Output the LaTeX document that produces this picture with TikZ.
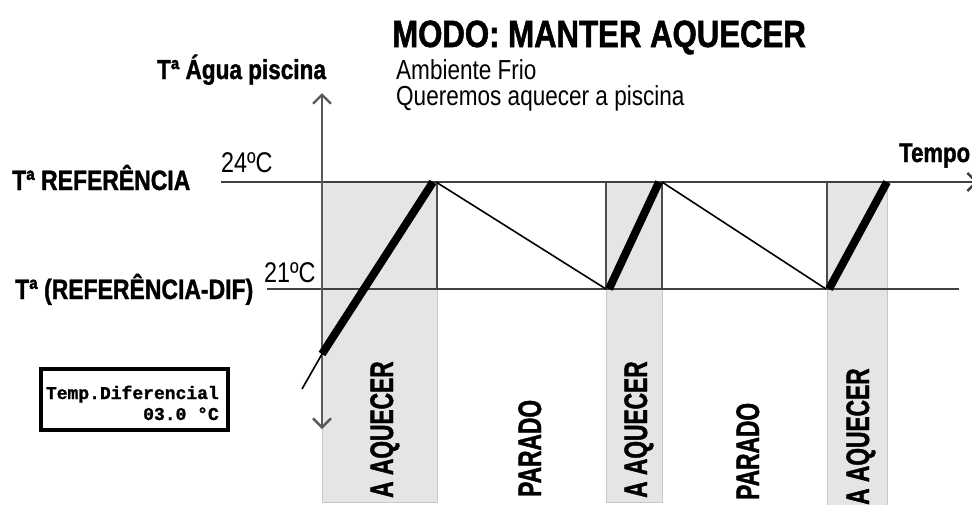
\documentclass[tikz,border=0pt]{standalone}
\usepackage{fontspec}
\setmainfont{Liberation Sans}
\newfontfamily\nar[FakeStretch=0.82, BoldFeatures={FakeBold=1.3}]{Liberation Sans}
\newfontfamily\narv[FakeStretch=0.70, BoldFeatures={FakeBold=1.3}]{Liberation Sans}
\newfontfamily\monob[BoldFeatures={FakeBold=1.4}]{Liberation Mono}
\usetikzlibrary{arrows.meta}
\tikzset{
  txt/.style={inner sep=0pt, anchor=base west},
  bandbox/.style={fill=black!10, draw=black!22, line width=1pt},
  bandedge/.style={draw=black!70, line width=1.5pt},
  levelline/.style={draw=black!75, line width=2pt},
  axisline/.style={draw=black!65, line width=1.8pt},
  heatline/.style={draw=black, line width=8pt},
  coolline/.style={draw=black, line width=1.6pt},
  barb/.tip={Straight Barb[length=9pt,width=18pt,line width=2.4pt]},
  vlab/.style={font=\narv\bfseries\fontsize{32.5}{32}\selectfont, rotate=90, anchor=base west, inner sep=0pt},
  boldlab/.style={txt, font=\nar\bfseries\fontsize{28}{28}\selectfont},
  reglab/.style={txt, font=\nar\fontsize{27.5}{27}\selectfont}
}
\begin{document}
\begin{tikzpicture}[x=1pt,y=-1pt]
\useasboundingbox (0,0) rectangle (972,504);
% coordinates
\coordinate (b1tl) at (322,182); \coordinate (b1br) at (437,502);
\coordinate (b2tl) at (606,182); \coordinate (b2br) at (662,502);
\coordinate (b3tl) at (827,182); \coordinate (b3br) at (887,510);
\coordinate (refL) at (221,182); \coordinate (refR) at (978,182);
\coordinate (difL) at (267,289); \coordinate (difR) at (959,289);
\coordinate (axB) at (322,429); \coordinate (axT) at (322,93);
\coordinate (s0) at (302,389); \coordinate (h1a) at (322,354);
\coordinate (p1) at (433,182); \coordinate (p1b) at (436,182);
\coordinate (v1) at (606,289); \coordinate (v1b) at (609,289);
\coordinate (p2) at (659,182); \coordinate (p2b) at (662,182);
\coordinate (v2) at (826,289); \coordinate (v2b) at (829,289);
\coordinate (p3) at (887,182);
% bands
\path[bandbox] (b1tl) rectangle (b1br);
\path[bandbox] (b2tl) rectangle (b2br);
\path[bandbox] (b3tl) rectangle (b3br);
% band edges between levels
\draw[bandedge] (437,182) -- (437,289);
\draw[bandedge] (606,182) -- (606,289);
\draw[bandedge] (662,182) -- (662,289);
\draw[bandedge] (827,182) -- (827,289);
% level lines
\draw[levelline, -{barb}] (refL) -- (refR);
\draw[levelline] (difL) -- (difR);
% vertical axis
\draw[axisline, {barb}-{barb}] (axB) -- (axT);
% temperature curve
\draw[coolline] (s0) -- (h1a);
\draw[heatline] (h1a) -- (p1);
\draw[coolline] (p1b) -- (v1);
\draw[heatline] (v1b) -- (p2);
\draw[coolline] (p2b) -- (v2);
\draw[heatline] (v2b) -- (p3);
% texts
\node[txt, font=\nar\bfseries\fontsize{38}{38}\selectfont] (title) at (392,47) {MODO: MANTER AQUECER};
\node[reglab] (amb) at (396,79) {Ambiente Frio};
\node[reglab] (quer) at (396,105) {Queremos aquecer a piscina};
\node[txt, font=\nar\bfseries\fontsize{27.5}{27}\selectfont] (yax) at (157,79) {Tª Água piscina};
\node[boldlab] (tref) at (12,190) {Tª REFERÊNCIA};
\node[boldlab] (tdif) at (15,299) {Tª (REFERÊNCIA-DIF)};
\node[reglab, font=\nar\fontsize{28.5}{28}\selectfont] (t24) at (221,172) {24ºC};
\node[reglab, font=\nar\fontsize{28.5}{28}\selectfont] (t21) at (264,282) {21ºC};
\node[txt, font=\nar\bfseries\fontsize{27}{27}\selectfont] (tempo) at (899,162) {Tempo};
% display box
\draw[line width=3.5pt] (41,369) rectangle (228,430);
\node[inner sep=0pt, anchor=base east, font=\monob\bfseries\fontsize{18}{18}\selectfont] (d1) at (219,399) {Temp.Diferencial};
\node[inner sep=0pt, anchor=base east, font=\monob\bfseries\fontsize{18}{18}\selectfont] (d2) at (219,420) {03.0 °C};
% state labels
\node[vlab] (s1) at (393,498) {A AQUECER};
\node[vlab] (s2) at (541,497) {PARADO};
\node[vlab] (s3) at (647,498) {A AQUECER};
\node[vlab] (s4) at (759,500) {PARADO};
\node[vlab] (s5) at (869,505) {A AQUECER};
\end{tikzpicture}
\end{document}
